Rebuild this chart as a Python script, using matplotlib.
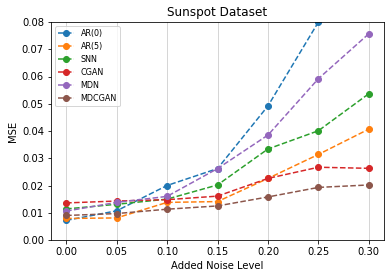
import matplotlib
matplotlib.use("Agg")
import matplotlib.pyplot as plt

noise = [0.00, 0.05, 0.10, 0.15, 0.20, 0.25, 0.30]
ar0 = [0.0072, 0.0107, 0.0200, 0.0262, 0.0492, 0.0800, 0.1150]
ar5 = [0.0079, 0.0081, 0.0138, 0.0141, 0.0226, 0.0314, 0.0407]
snn = [0.0114, 0.0131, 0.0150, 0.0202, 0.0334, 0.0401, 0.0537]
cgan = [0.0136, 0.0143, 0.0148, 0.0161, 0.0226, 0.0267, 0.0263]
mdn = [0.0106, 0.0138, 0.0160, 0.0262, 0.0385, 0.0592, 0.0757]
mdcgan = [0.0090, 0.0097, 0.0113, 0.0125, 0.0158, 0.0193, 0.0202]
labels = ["AR(0)", "AR(5)", "SNN", "CGAN", "MDN", "MDCGAN"]

W, H = 392, 278
fig = plt.figure(figsize=(W/72, H/72), dpi=72)
ax = fig.add_axes([51/W, 1-240/H, (384-51)/W, (240-22)/H])
for s, lab in zip([ar0, ar5, snn, cgan, mdn, mdcgan], labels):
    ax.plot(noise, s, "o--", label=lab, markersize=6)
ax.set_ylim(0, 0.08)
ax.set_xticks(noise)
ax.set_xticklabels([f"{v:.2f}" for v in noise])
ax.xaxis.grid(True, color="#cccccc")
ax.set_axisbelow(True)
ax.set_xlabel("Added Noise Level", fontsize=10)
ax.set_ylabel("MSE", fontsize=10)
ax.set_title("Sunspot Dataset", fontsize=12)
ax.tick_params(labelsize=10)
ax.legend(loc="upper left", fontsize=8)
fig.savefig("out.png", dpi=72)
